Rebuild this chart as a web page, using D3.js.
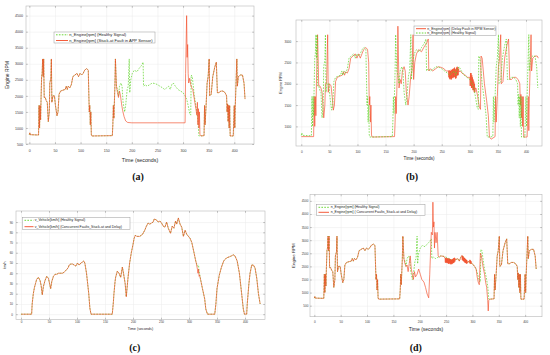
<!DOCTYPE html>
<html>
<head>
<meta charset="utf-8">
<script src="https://cdn.jsdelivr.net/npm/d3@7"></script>
<style>
body { margin: 0; background: #fff; }
svg { display: block; }
</style>
</head>
<body>
<div id="fig"></div>
<script>
// values, [time in s, value]
var rpmHealthy = [[0,790],[1,850],[2,790],[18,780],[19,1700],[20,1000],[21,1700],[22,1250],[23,2000],[24,2600],[25,2700],[26,3150],[27,2600],[28,3150],[29,1950],[31,1950],[33,1850],[35,1800],[37,1200],[39,1500],[40,2400],[42,2550],[43,3150],[44,1800],[46,2000],[49,2000],[51,1700],[54,1380],[56,1500],[58,2050],[61,2150],[66,2180],[70,2200],[72,2300],[74,2200],[76,2300],[79,2250],[82,2350],[85,2600],[89,2650],[93,2700],[96,2600],[99,2700],[102,2650],[105,2700],[108,2800],[112,2850],[115,2800],[117,1500],[118,1700],[119,1100],[120,1500],[121,800],[122,750],[162,760],[163,1100],[164,1700],[165,1300],[167,2300],[168,3150],[170,2300],[172,2200],[174,2000],[176,2300],[179,2400],[181,2300],[183,1800],[186,1500],[188,1700],[191,2200],[193,2300],[195,3150],[196,2100],[198,2500],[201,2700],[205,2800],[210,2750],[214,2850],[219,2950],[222,3050],[223,2300],[226,2350],[230,2300],[235,2350],[240,2400],[246,2380],[250,2350],[255,2300],[260,2250],[264,2200],[268,2250],[272,2300],[275,2200],[278,2350],[281,2400],[285,2300],[290,2200],[295,2150],[300,2100],[304,2000],[307,1900],[310,1700],[313,1450],[315,1400],[316,2650],[318,2600],[322,2000],[326,1600],[329,1250],[331,750],[341,760],[342,1700],[343,1100],[345,1700],[347,2400],[349,2600],[351,3150],[352,2000],[355,2050],[358,2600],[362,2900],[365,3050],[367,2100],[370,2100],[374,2150],[378,2150],[382,2100],[385,2000],[386,1500],[387,1750],[388,1200],[389,1700],[390,1000],[391,1700],[392,750],[398,750],[400,1700],[401,1000],[402,1700],[405,3150],[406,2300],[408,2600],[412,2650],[416,2650],[419,2400],[421,1900]];

// (a) stuck-at fault, where it leaves the healthy trace
var stuckA = [[170,2300],[172,2100],[174,1950],[176,2150],[178,2000],[180,1750],[182,1550],[185,1350],[188,1220],[192,1170],[200,1160],[250,1160],[304,1160],[305,2700],[307,4500],[308,3200],[309,3600],[310,2700],[311,2400],[313,2550],[315,2350],[317,2250],[319,2200],[321,2000],[323,1800],[325,1600],[327,1400],[328,1800],[329,1100],[330,1600],[331,1000],[332,1500],[333,800],[335,750]];

// (b) delay fault in rpm sensor
var delayB1 = [[0,760],[22,760],[23,1700],[24,1000],[25,1700],[26,1250],[27,2000],[28,2600],[29,3150],[30,2600],[31,1950],[33,1950],[35,1900],[37,1800],[40,1200],[42,1500],[43,2000],[45,2000],[47,3150],[48,1800],[50,2000],[53,1950],[55,1700],[57,1380],[59,1500],[61,2050],[64,2150],[69,2180],[73,2200],[75,2280],[77,2200],[79,2280],[82,2250],[85,2350],[88,2600],[92,2650],[96,2700],[99,2600],[102,2700],[105,2600],[108,2700],[111,2800],[115,2850],[118,2800],[120,2500],[121,1500],[122,1700],[123,1100],[124,1500],[125,800],[126,750],[166,760],[167,1100],[168,1700],[169,1300],[171,2300],[172,3350],[174,1900],[176,2100],[178,2000],[180,2300],[183,2400],[185,2300],[187,1800],[190,1500],[192,1700],[195,2200],[197,2300],[199,3150],[200,2100],[202,2500],[205,2700],[209,2800],[214,2750],[218,2850],[223,2950],[226,3050],[227,2300],[230,2350],[234,2300],[239,2350],[244,2400],[250,2380],[254,2350],[258,2300]];
var chatterB1 = [[262,2300],[262.6,2150],[263.2,2320],[263.8,2120],[264.4,2300],[265,2100],[265.6,2300],[266.2,2120],[266.8,2330],[267.4,2100],[268,2320],[268.6,2140],[269.2,2340],[269.8,2130],[270.4,2350],[271,2150],[271.6,2360],[272.2,2160],[272.8,2380],[273.4,2150],[274,2350],[274.6,2120],[275.2,2330],[275.8,2130],[276.4,2380],[277,2180],[277.6,2400],[278.2,2200],[278.8,2380],[279.4,2200],[280,2350],[281,2280],[283,2300],[286,2250],[289,2220]];
var delayB2 = [[292,2200],[296,2150]];
var chatterB2 = [[300,2150],[300.6,1950],[301.2,2250],[301.8,1950],[302.4,2250],[303,1900],[303.6,2200],[304.2,1900],[304.8,2150],[305.4,1850],[306,2100],[306.6,1850],[307.2,2050],[307.8,1800],[308.4,2000],[309,1800],[310,1900]];
var delayB3 = [[311,1900],[314,1700],[317,1450],[319,1400],[320,2650],[322,2600],[326,2000],[330,1600],[333,1250],[335,750],[338,700],[345,760],[346,1700],[347,1100],[349,1700],[351,2400],[353,2600],[355,3150],[356,2000],[359,2050],[362,2600],[366,2900],[369,3050],[371,2100],[374,2100],[378,2150],[382,2150],[386,2100],[389,2000],[390,1500],[391,1750],[392,1200],[393,1700],[394,1000],[395,1700],[396,750],[402,750],[404,1700],[405,900],[406,1700],[409,3150],[410,2300],[412,2600],[416,2650],[420,2650],[422,2600]];

// (d) concurrent faults, where they leave the healthy trace
var faultD1 = [[170,2300],[172,2100],[174,2000],[176,2050],[178,1800],[180,2100],[182,2400],[184,1900],[186,1700],[188,1500],[190,1800],[192,1600],[195,1700],[198,1900],[201,1700],[204,1500],[208,1400],[211,1200],[214,950],[217,800],[219,1700],[221,2800],[222,3300],[224,3200],[225,4450],[226,3500],[227,3700],[228,2700],[229,3300],[231,2900],[233,3300],[235,2400],[237,2350],[240,2400]];
var chatterD1 = [[248,2300],[248.6,2150],[249.2,2320],[249.8,2130],[250.4,2330],[251,2150],[251.6,2300],[252.2,2120],[252.8,2310],[253.4,2130],[254,2300],[254.6,2100],[255.2,2280],[255.8,2100],[256.4,2300],[257,2120],[257.6,2280],[258.2,2080],[258.8,2270],[259.4,2100],[260,2250],[260.6,2080],[261.2,2260],[261.8,2100],[262.4,2280],[263,2120],[263.6,2300],[264.2,2130],[264.8,2320],[265.4,2150],[266,2330],[266.6,2180],[267.2,2300],[268,2250]];
var chatterD2 = [[280,2420],[280.6,2250],[281.2,2400],[281.8,2220],[282.4,2380],[283,2200],[283.6,2350],[284.2,2180],[284.8,2320],[285.4,2150],[286,2300],[286.6,2130],[287.2,2280],[287.8,2120],[288.4,2250],[289,2100],[289.6,2230],[290.2,2120],[292,2200],[294,2150],[295,2250],[295.6,2100],[296.2,2230],[296.8,2100],[297.4,2200],[298,2120]];
var faultD2 = [[300,2100],[304,2000],[307,1900],[309,1600],[311,1400],[313,1300],[315,2500],[317,2400],[320,2000],[323,1700],[325,1400],[327,1200],[329,700],[330,300],[331,700],[333,750]];

// (c) vehicle speed, km/h
var speedHealthy = [[0,0],[19,0],[20,10],[22,20],[24,26],[26,30],[28,34],[31,36],[34,33],[36,28],[38,19],[40,27],[43,33],[46,37],[49,35],[51,30],[53,25],[55,32],[58,37],[61,39],[64,39],[67,40],[70,40],[74,40],[77,41],[79,42],[82,44],[84,45],[86,48],[89,49],[92,49],[95,48],[98,47],[101,50],[104,48],[107,50],[110,51],[112,52],[114,50],[117,40],[119,30],[121,20],[123,6],[125,0],[163,0],[165,12],[166,20],[168,32],[169,36],[172,42],[175,40],[178,36],[181,46],[183,40],[186,30],[188,17],[191,35],[194,50],[197,60],[200,68],[202,74],[204,77],[207,76],[212,76],[217,78],[221,82],[224,86],[227,89],[230,88],[233,89],[236,90],[238,93],[242,92],[245,90],[248,91],[251,89],[254,86],[257,85],[260,90],[263,84],[267,79],[270,86],[273,84],[276,91],[278,88],[281,94],[284,88],[287,85],[290,76],[293,82],[296,78],[299,76],[302,74],[305,70],[309,60],[312,52],[315,47],[317,48],[318,42],[321,33],[324,25],[328,15],[330,5],[333,0],[346,0],[348,10],[350,25],[354,38],[358,46],[362,52],[367,55],[372,56],[376,57],[379,58],[382,57],[386,52],[390,40],[394,20],[397,5],[399,0],[403,0],[404,10],[407,30],[409,40],[412,48],[415,48],[418,45],[421,35],[424,20],[427,10]];
var speedFaultPart = [[313,50],[315,44],[316,40],[317,44],[318,37],[319,38]];

// tick values
var timeTicks = [0, 50, 100, 150, 200, 250, 300, 350, 400];
var rpmTicksA = [500, 1000, 1500, 2000, 2500, 3000, 3500, 4000, 4500];
var rpmTicksB = [1000, 1500, 2000, 2500, 3000];
var speedTicks = [0, 10, 20, 30, 40, 50, 60, 70, 80, 90];
var rpmTicksD = [500, 1000, 1500, 2000, 2500, 3000, 3500, 4000, 4500];

var legendA = ["n_Engine[rpm] (Healthy Signal)", "n_Engine[rpm] (Stuck-at Fault in APP Sensor)"];
var legendB = ["n_Engine[rpm] (Delay Fault in RPM Sensor)", "n_Engine[rpm] (Healthy Signal)"];
var legendC = ["v_Vehicle[km/h] (Healthy Signal)", "v_Vehicle[km/h] (Concurrent Faults_Stuck-at and Delay)"];
var legendD = ["n_Engine[rpm] (Healthy Signal)", "n_Engine[rpm] ( Concurrent Faults_Stuck-at and Delay)"];

function seg(arr, t0, t1) {
  return arr.filter(function(d) { return d[0] >= t0 && d[0] <= t1; });
}

var rpmStuck = [].concat(seg(rpmHealthy, 0, 168), stuckA, seg(rpmHealthy, 336, 430));
var rpmDelay = [].concat(delayB1, chatterB1, delayB2, chatterB2, delayB3);
var rpmConc = [].concat(seg(rpmHealthy, 0, 168), faultD1, seg(rpmHealthy, 241, 247), chatterD1,
  seg(rpmHealthy, 269, 279), chatterD2, faultD2, seg(rpmHealthy, 334, 430));
var speedFault = [].concat(seg(speedHealthy, 0, 312), speedFaultPart, seg(speedHealthy, 321, 430));

var GREEN = "#5cd424", RED = "#f34a26";
var FONT = "'Liberation Sans', Arial, sans-serif";

var styles = {
  healthy: {stroke: GREEN, width: 0.75, dash: "1.6,1.3", opacity: 0.95},
  fault: {stroke: RED, width: 0.75, dash: null, opacity: 0.85}
};

var panels = [
  {id: "a", left: 26, right: 254, top: 6, bottom: 144, xDom: [-6.5, 438.5], yDom: [500, 4800], yTicks: rpmTicksA,
   tickFont: 3.6, xPad: 5.2, yPad: 3, xTitleY: 159.5, xTitleSize: 5.3, yTitle: "Engine RPM", yTitleX: 7, yTitleSize: 5,
   series: [["healthy", rpmHealthy], ["fault", rpmStuck]],
   legend: {x: 54, y: 32, w: 101, h: 11, rows: [34.8, 40.5], lx: [56, 68], tx: 69.3, size: 4.1, labels: legendA, kinds: ["healthy", "fault"]},
   cap: "(a)", capX: 138, capY: 180},
  {id: "b", left: 296, right: 542, top: 20, bottom: 146, xDom: [-9.4, 428.5], yDom: [540, 3495], yTicks: rpmTicksB,
   tickFont: 3.1, xPad: 4.5, yPad: 4.7, xTitleY: 158.3, xTitleSize: 4.5, yTitle: "Engine RPM", yTitleX: 280.5, yTitleSize: 3.8,
   series: [["fault", rpmDelay], ["healthy", rpmHealthy]],
   legend: {x: 414, y: 26, w: 82, h: 9.7, rows: [28.7, 33], lx: [416, 426], tx: 427.3, size: 3.5, labels: legendB, kinds: ["fault", "healthy"]},
   cap: "(b)", capX: 412, capY: 180},
  {id: "c", left: 16, right: 265, top: 211, bottom: 319.5, xDom: [-8.9, 435.7], yDom: [-5.2, 100.8], yTicks: speedTicks,
   tickFont: 3, xPad: 1.8, yPad: 3, xTitleY: 329.3, xTitleSize: 3.7, yTitle: "km/h", yTitleX: 5, yTitleSize: 3.5,
   series: [["healthy", speedHealthy], ["fault", speedFault]],
   legend: {x: 22.7, y: 217.7, w: 107.3, h: 11.6, rows: [220.3, 226.7], lx: [24.5, 33.5], tx: 34.7, size: 3.5, labels: legendC, kinds: ["healthy", "fault"]},
   cap: "(c)", capX: 134.7, capY: 350.5},
  {id: "d", left: 310, right: 542, top: 194.5, bottom: 316.7, xDom: [-8.2, 432], yDom: [80, 4743], yTicks: rpmTicksD,
   tickFont: 3, xPad: 3.8, yPad: 1.7, xTitleY: 329.3, xTitleSize: 5, yTitle: "Engine RPM", yTitleX: 293, yTitleSize: 4.4,
   series: [["healthy", rpmHealthy], ["fault", rpmConc]],
   legend: {x: 316.7, y: 204.3, w: 108.3, h: 11, rows: [207.3, 212.3], lx: [318.5, 329], tx: 330.7, size: 3.5, labels: legendD, kinds: ["healthy", "fault"]},
   cap: "(d)", capX: 415.8, capY: 350.5}
];

var svg = d3.select("#fig").append("svg")
    .attr("width", 550)
    .attr("height", 355);

function drawPanel(p) {
  var x = d3.scaleLinear().domain(p.xDom).range([p.left, p.right]);
  var y = d3.scaleLinear().domain(p.yDom).range([p.bottom, p.top]);
  var w = p.right - p.left, h = p.bottom - p.top;
  var fmt = d3.format("d");
  var g = svg.append("g");

  // grid
  g.append("g")
      .attr("transform", "translate(0," + p.bottom + ")")
      .call(d3.axisBottom(x).tickValues(timeTicks).tickSize(-h).tickFormat(""))
      .call(function(s) { s.select(".domain").remove(); })
      .selectAll("line").attr("stroke", "#ebebeb").attr("stroke-width", 0.5);
  g.append("g")
      .attr("transform", "translate(" + p.left + ",0)")
      .call(d3.axisLeft(y).tickValues(p.yTicks).tickSize(-w).tickFormat(""))
      .call(function(s) { s.select(".domain").remove(); })
      .selectAll("line").attr("stroke", "#ebebeb").attr("stroke-width", 0.5);

  g.append("clipPath").attr("id", "clip-" + p.id)
    .append("rect")
      .attr("x", p.left).attr("y", p.top)
      .attr("width", w).attr("height", h);

  var line = d3.line()
      .x(function(d) { return x(d[0]); })
      .y(function(d) { return y(d[1]); });

  p.series.forEach(function(s) {
    var st = styles[s[0]];
    g.append("path")
        .datum(s[1])
        .attr("clip-path", "url(#clip-" + p.id + ")")
        .attr("d", line)
        .attr("fill", "none")
        .attr("stroke", st.stroke)
        .attr("stroke-width", st.width)
        .attr("stroke-opacity", st.opacity)
        .attr("stroke-dasharray", st.dash)
        .attr("stroke-linejoin", "round");
  });

  // box
  g.append("rect")
      .attr("x", p.left).attr("y", p.top)
      .attr("width", w).attr("height", h)
      .attr("fill", "none")
      .attr("stroke", "#b8b8b8")
      .attr("stroke-width", 0.6);

  // axes with inward ticks
  var tk = 1.8;
  var xa = g.append("g")
      .attr("transform", "translate(0," + p.bottom + ")")
      .call(d3.axisBottom(x).tickValues(timeTicks).tickSize(-tk).tickPadding(p.xPad).tickFormat(fmt));
  var ya = g.append("g")
      .attr("transform", "translate(" + p.left + ",0)")
      .call(d3.axisLeft(y).tickValues(p.yTicks).tickSize(-tk).tickPadding(p.yPad).tickFormat(fmt));
  var xt = g.append("g")
      .attr("transform", "translate(0," + p.top + ")")
      .call(d3.axisTop(x).tickValues(timeTicks).tickSize(-tk).tickFormat(""));
  var yr = g.append("g")
      .attr("transform", "translate(" + p.right + ",0)")
      .call(d3.axisRight(y).tickValues(p.yTicks).tickSize(-tk).tickFormat(""));
  [xa, ya, xt, yr].forEach(function(a) {
    a.select(".domain").remove();
    a.attr("font-size", p.tickFont).attr("font-family", FONT).attr("color", "#3a3a3a");
    a.selectAll("line").attr("stroke", "#8a8a8a").attr("stroke-width", 0.5);
  });

  // titles
  g.append("text")
      .attr("x", (p.left + p.right) / 2)
      .attr("y", p.xTitleY)
      .attr("text-anchor", "middle")
      .attr("dominant-baseline", "central")
      .attr("font-family", FONT)
      .attr("font-size", p.xTitleSize)
      .attr("fill", "#262626")
      .text("Time (seconds)");
  g.append("text")
      .attr("transform", "translate(" + p.yTitleX + "," + ((p.top + p.bottom) / 2) + ") rotate(-90)")
      .attr("text-anchor", "middle")
      .attr("dominant-baseline", "central")
      .attr("font-family", FONT)
      .attr("font-size", p.yTitleSize)
      .attr("fill", "#262626")
      .text(p.yTitle);

  // legend
  var L = p.legend;
  var lg = g.append("g");
  lg.append("rect")
      .attr("x", L.x).attr("y", L.y)
      .attr("width", L.w).attr("height", L.h)
      .attr("fill", "#fff")
      .attr("stroke", "#9a9a9a")
      .attr("stroke-width", 0.5);
  L.labels.forEach(function(lab, i) {
    var st = styles[L.kinds[i]];
    lg.append("line")
        .attr("x1", L.lx[0]).attr("x2", L.lx[1])
        .attr("y1", L.rows[i]).attr("y2", L.rows[i])
        .attr("stroke", st.stroke)
        .attr("stroke-width", 0.9)
        .attr("stroke-dasharray", st.dash);
    lg.append("text")
        .attr("x", L.tx)
        .attr("y", L.rows[i])
        .attr("dominant-baseline", "central")
        .attr("font-family", FONT)
        .attr("font-size", L.size)
        .attr("fill", "#222")
        .text(lab);
  });

  // sub-figure caption
  svg.append("text")
      .attr("x", p.capX)
      .attr("y", p.capY)
      .attr("text-anchor", "middle")
      .attr("font-family", "'Liberation Serif', 'Times New Roman', serif")
      .attr("font-weight", "bold")
      .attr("font-size", 10)
      .attr("fill", "#111")
      .text(p.cap);
}

panels.forEach(drawPanel);
</script>
</body>
</html>
